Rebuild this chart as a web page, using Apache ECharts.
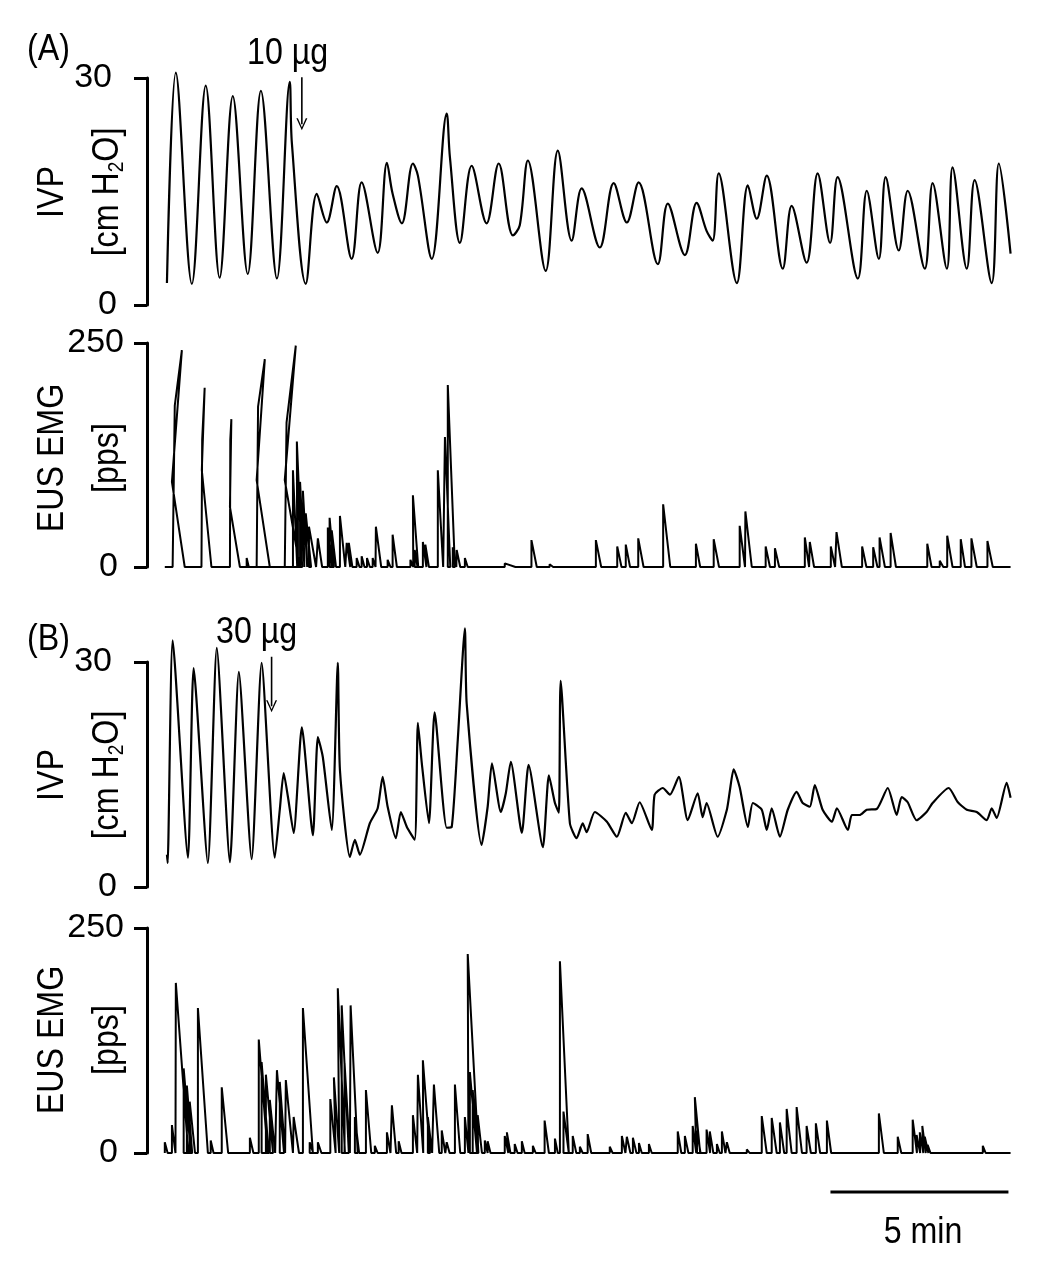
<!DOCTYPE html>
<html><head><meta charset="utf-8">
<script src="https://cdn.jsdelivr.net/npm/echarts@6/dist/echarts.min.js"></script>
<style>html,body{margin:0;padding:0;background:#fff}#c{width:1050px;height:1272px}</style>
</head><body><div id="c"></div>
<script>
// ---- Data (time in minutes from start of trace) ----
// Panel A, IVP [cm H2O]
const tIvpA = [0.06,0.31,0.76,1.15,1.54,1.91,2.33,2.70,3.15,3.51,3.57,3.96,4.27,4.55,4.83,5.25,5.53,5.98,6.24,6.40,6.66,6.97,7.11,7.50,7.92,8.01,8.29,8.62,9.04,9.38,9.78,9.97,10.20,10.70,11.04,11.43,11.71,12.22,12.61,12.98,13.31,13.85,14.13,14.61,14.94,15.22,15.39,15.56,16.07,16.38,16.63,16.91,17.36,17.61,18.03,18.34,18.69,18.90,19.47,19.72,20.06,20.25,20.62,20.87,21.35,21.57,21.97,22.13,22.53,22.75,23.23,23.43,23.76];
const vIvpA = [2.9,30.7,2.8,29.0,3.6,27.6,4.1,28.3,3.5,29.5,21.4,2.8,14.7,10.9,15.7,6.1,16.2,6.9,18.8,14.7,10.8,18.7,17.1,6.1,25.3,19.5,8.2,18.4,10.8,18.7,9.2,10.5,19.1,4.5,20.4,8.5,15.4,7.6,16.1,10.9,16.2,5.4,13.4,6.6,13.5,9.8,8.5,17.4,2.9,15.8,11.4,17.1,4.8,13.1,5.6,17.4,8.2,16.9,3.5,15.1,6.1,16.9,7.2,15.1,4.8,16.1,4.8,18.2,4.8,16.5,2.9,18.7,6.8];

// Panel A, EUS EMG [pps]: large bursts (point sequence) and single discharges
const tBurstA = [0,0.22,0.28,0.48,0.20,0.56, 1.03,1.05,1.12,1.04,1.31, 1.83,1.84,1.87,1.83,2.11, 2.58,2.62,2.81,2.58,2.95, 3.37,3.42,3.68,3.37,3.79];
const vBurstA = [0,0,180,242,95,0, 0,142,200,108,0, 0,142,165,67,0, 0,179,232,97,0, 0,161,247,97,0];
const tSpkA = [2.30,3.60,3.71,3.74,3.80,3.88,3.96,4.05,4.30,4.58,4.63,4.69,4.92,5.11,5.17,5.39,5.53,5.68,5.84,5.93,6.26,6.40,6.90,6.97,7.02,7.25,7.32,7.67,7.87,7.95,8.09,8.20,8.43,9.55,10.30,10.81,12.11,12.71,12.95,13.30,14.00,14.92,15.42,16.15,16.31,16.88,17.14,17.98,18.12,18.71,18.87,19.59,19.90,20.08,20.39,21.42,21.77,21.98,22.36,22.66,23.11];
const vSpkA = [10,108,140,100,95,85,60,45,32,44,55,41,57,27,27,10,12,10,10,45,8,36,8,80,19,28,25,108,145,203,22,19,10,4,30,3,30,23,25,32,70,26,31,46,62,23,21,33,28,23,39,23,22,33,38,26,7,35,31,32,29];
const dSpkA = [0.06,0.12,0.15,0.12,0.12,0.12,0.15,0.2,0.12,0.12,0.12,0.12,0.15,0.1,0.1,0.08,0.08,0.08,0.08,0.15,0.08,0.12,0.08,0.15,0.08,0.1,0.1,0.15,0.15,0.2,0.1,0.1,0.08,0.3,0.15,0.1,0.15,0.12,0.12,0.15,0.2,0.12,0.15,0.15,0.18,0.12,0.12,0.12,0.12,0.12,0.15,0.12,0.12,0.15,0.15,0.12,0.1,0.15,0.12,0.15,0.15];

// Panel B, IVP [cm H2O]
const tIvpB = [0.06,0.08,0.22,0.65,0.81,1.21,1.46,1.83,2.08,2.44,2.72,3.09,3.23,3.34,3.46,3.62,3.85,4.16,4.30,4.44,4.69,4.86,4.92,5.20,5.34,5.48,5.76,5.98,6.12,6.26,6.49,6.63,6.80,7.02,7.11,7.22,7.42,7.58,7.92,8.06,8.23,8.43,8.48,8.90,9.07,9.19,9.44,9.58,9.72,10.03,10.22,10.62,10.79,10.96,11.07,11.12,11.38,11.57,11.74,11.85,12.08,12.42,12.70,12.95,13.12,13.34,13.68,13.76,13.99,14.19,14.44,14.69,14.97,15.11,15.22,15.53,15.79,15.87,15.98,16.15,16.38,16.52,16.77,16.91,17.05,17.28,17.50,17.75,17.92,18.12,18.26,18.48,18.74,18.88,19.19,19.30,19.52,19.72,20.00,20.31,20.56,20.70,20.87,21.12,21.40,21.57,22.02,22.28,22.53,22.81,23.09,23.23,23.37,23.65,23.76];
const vIvpB = [4.3,3.2,32.9,3.9,29.2,3.2,31.9,3.3,28.7,3.7,29.9,3.9,10.3,15.2,12.0,7.2,21.3,6.9,20.0,17.3,7.6,29.9,15.6,4.0,6.3,4.3,8.5,10.5,14.7,10.7,6.5,10.0,8.0,6.3,21.9,16.5,8.5,23.3,7.9,8.0,19.6,34.5,24.5,5.6,10.7,16.5,10.0,12.5,16.7,7.2,16.3,5.3,14.9,11.2,9.9,27.5,8.5,6.5,8.5,7.3,10.0,8.7,6.7,9.9,8.5,11.3,7.6,12.3,13.2,12.3,14.7,8.9,12.5,9.3,11.2,6.7,10.3,12.7,15.7,13.3,8.0,11.2,10.3,7.6,10.5,6.7,10.3,12.7,11.2,10.7,13.6,10.3,8.7,10.5,7.6,9.6,9.6,10.3,10.4,13.2,9.6,12.0,11.3,8.9,10.0,11.2,13.2,11.3,10.3,10.0,8.9,10.5,9.2,13.9,11.9];

// Panel B, EUS EMG [pps]: discharges (onset, peak, decay duration)
const tSpkB = [0.00,0.20,0.31,0.53,0.62,0.70,0.93,1.29,1.60,2.39,2.64,2.72,2.84,2.95,3.15,3.23,3.40,3.62,3.88,4.07,4.30,4.65,4.75,4.86,4.97,5.05,5.22,5.34,5.65,5.90,6.24,6.38,6.57,6.97,7.11,7.25,7.39,7.56,7.78,7.92,8.15,8.43,8.51,8.57,8.65,8.79,8.99,9.07,9.55,9.61,9.83,10.03,10.34,10.67,10.96,11.10,11.20,11.46,11.66,11.88,12.50,12.84,12.98,13.15,13.32,13.60,14.41,14.61,14.83,14.89,14.95,15.22,15.31,15.51,15.65,15.79,16.35,16.77,17.05,17.28,17.47,17.75,18.03,18.29,18.60,20.06,20.59,21.01,21.12,21.21,21.28,21.35,21.43,22.98];
const vSpkB = [12,31,189,94,75,57,161,14,73,17,126,101,87,59,92,79,81,40,161,12,12,60,84,183,164,100,164,40,70,8,23,53,13,42,87,103,40,76,25,12,76,40,221,90,70,42,14,13,19,23,10,13,8,36,16,213,46,19,7,21,7,19,18,17,11,10,24,19,30,62,25,26,24,10,24,12,4,41,39,34,49,51,30,33,36,44,18,37,20,23,30,18,9,8];
const dSpkB = [0.08,0.1,0.35,0.2,0.15,0.15,0.28,0.08,0.18,0.1,0.25,0.2,0.2,0.15,0.2,0.15,0.2,0.15,0.28,0.1,0.1,0.15,0.15,0.2,0.2,0.15,0.2,0.12,0.15,0.08,0.1,0.12,0.08,0.12,0.15,0.2,0.12,0.15,0.1,0.08,0.15,0.1,0.3,0.2,0.15,0.12,0.08,0.08,0.1,0.1,0.08,0.08,0.08,0.12,0.08,0.25,0.15,0.1,0.08,0.1,0.08,0.1,0.1,0.1,0.08,0.08,0.1,0.1,0.1,0.15,0.1,0.1,0.1,0.08,0.1,0.08,0.08,0.14,0.14,0.12,0.14,0.15,0.12,0.12,0.12,0.14,0.1,0.12,0.1,0.1,0.1,0.1,0.08,0.08];

const traceEnd = 23.76;
// Drug application markers (time, arrow top / arrowhead centre in cm H2O)
const doseA = {t: 3.85, top: 30.1, head: 23.9, label: '10 µg'};
const doseB = {t: 3.00, top: 30.7, head: 24.1, label: '30 µg'};
// Scale bar (minutes)
const scaleBar = [18.7, 23.7];
const ivpTicks = [0, 30];
const emgTicks = [0, 250];

// ---- Build series data ----
const pairs = (t, v) => t.map((x, i) => [x, v[i]]);
function spikes(t, v, d) {
  const out = [];
  t.forEach((x, i) => { out.push([x, 0], [x, v[i]], [+(x + d[i]).toFixed(3), 0]); });
  return out;
}
const emgA = pairs(tBurstA, vBurstA).concat(spikes(tSpkA, vSpkA, dSpkA), [[traceEnd, 0]]);
const emgB = spikes(tSpkB, vSpkB, dSpkB).concat([[traceEnd, 0]]);

const FONT = "'Liberation Sans',Arial,Helvetica,sans-serif";
const FS = 37;          // annotation text (horizontally condensed below)
const SX = 0.87;
const TICK_FS = 34;
const grids = [
  {left: 147, width: 865, top: 78, height: 227},
  {left: 147, width: 865, top: 343, height: 224},
  {left: 147, width: 865, top: 662, height: 225},
  {left: 147, width: 865, top: 928, height: 225},
  {left: 147, width: 865, top: 1185, height: 14}
];
const xAxes = grids.map((g, i) => ({gridIndex: i, type: 'value', min: -0.5, max: 23.8, show: false}));
function yAx(i, ticks, margin, padTop, padBottom) {
  return {
    gridIndex: i, type: 'value', min: ticks[0], max: ticks[1], interval: ticks[1] - ticks[0],
    axisLine: {show: true, onZero: false, lineStyle: {color: '#000', width: 3}},
    axisTick: {show: true, length: 13, lineStyle: {color: '#000', width: 3}},
    splitLine: {show: false},
    axisLabel: {
      color: '#000', fontSize: TICK_FS, fontFamily: FONT, margin: margin,
      formatter: v => (v === ticks[1] ? '{t|' + v + '}' : '{b|' + v + '}'),
      rich: {
        t: {fontSize: TICK_FS, fontFamily: FONT, color: '#000', padding: [0, padTop, 0, 0]},
        b: {fontSize: TICK_FS, fontFamily: FONT, color: '#000', padding: [0, padBottom, 0, 0]}
      }
    }
  };
}
const yAxes = [yAx(0, ivpTicks, 30, 5, 0), yAx(1, emgTicks, 23, 0, 6), yAx(2, ivpTicks, 30, 5, 0), yAx(3, emgTicks, 23, 0, 6),
  {gridIndex: 4, type: 'value', min: -1, max: 1, show: false}];

const arrowSym = 'path://M0,12 L5,0 L10,12 L8.6,12 L5,3 L1.4,12 Z';
function doseArrow(d, idx) {
  return {
    type: 'line', xAxisIndex: idx, yAxisIndex: idx, clip: false, animation: false, silent: true,
    symbol: arrowSym, symbolSize: [11, 12], showSymbol: true, showAllSymbol: true,
    lineStyle: {color: '#000', width: 1.6}, itemStyle: {color: '#000', borderWidth: 0},
    data: [{value: [d.t, d.top], symbol: 'none'}, {value: [d.t, d.head], symbolRotate: 180}]
  };
}
const lineBase = {type: 'line', symbol: 'none', clip: false, animation: false, silent: true,
  lineStyle: {color: '#000', width: 2.2}};
const series = [
  Object.assign({}, lineBase, {xAxisIndex: 0, yAxisIndex: 0, smooth: 0.35, data: pairs(tIvpA, vIvpA)}),
  Object.assign({}, lineBase, {xAxisIndex: 1, yAxisIndex: 1, data: emgA, lineStyle: {color: '#000', width: 2}}),
  Object.assign({}, lineBase, {xAxisIndex: 2, yAxisIndex: 2, smooth: 0.2, data: pairs(tIvpB, vIvpB)}),
  Object.assign({}, lineBase, {xAxisIndex: 3, yAxisIndex: 3, data: emgB, lineStyle: {color: '#000', width: 2}}),
  Object.assign({}, lineBase, {xAxisIndex: 4, yAxisIndex: 4, data: [[scaleBar[0], 0], [scaleBar[1], 0]], lineStyle: {color: '#000', width: 3}}),
  doseArrow(doseA, 0),
  doseArrow(doseB, 2)
];

function txt(x, y, text, opt) {
  opt = opt || {};
  return {
    type: 'text', x: x, y: y, rotation: opt.rot || 0, scaleX: SX, scaleY: 1, silent: true,
    style: Object.assign({text: text, fill: '#000', font: FS + 'px ' + FONT,
      textAlign: opt.align || 'center', textVerticalAlign: 'middle'}, opt.style || {})
  };
}
const unitRich = {
  a: {fontSize: FS, fontFamily: FONT, lineHeight: 40, fill: '#000', color: '#000'},
  s: {fontSize: 22, fontFamily: FONT, lineHeight: 8, verticalAlign: 'bottom', fill: '#000', color: '#000'}
};
const R = Math.PI / 2;
const graphic = [
  txt(27, 50, '(A)', {align: 'left'}),
  txt(27, 640, '(B)', {align: 'left'}),
  txt(247, 54, doseA.label, {align: 'left'}),
  txt(216, 633, doseB.label, {align: 'left'}),
  txt(53, 192, 'IVP', {rot: R}),
  txt(108, 192, '{a|[cm H}{s|2}{a|O]}', {rot: R, style: {rich: unitRich}}),
  txt(53, 458, 'EUS EMG', {rot: R}),
  txt(108, 458, '[pps]', {rot: R}),
  txt(53, 775, 'IVP', {rot: R}),
  txt(108, 775, '{a|[cm H}{s|2}{a|O]}', {rot: R, style: {rich: unitRich}}),
  txt(53, 1040, 'EUS EMG', {rot: R}),
  txt(108, 1040, '[pps]', {rot: R}),
  txt(923, 1233, '5 min')
];

const chart = echarts.init(document.getElementById('c'), null, {renderer: 'canvas'});
chart.setOption({
  animation: false,
  backgroundColor: '#fff',
  textStyle: {fontFamily: FONT},
  grid: grids, xAxis: xAxes, yAxis: yAxes, series: series, graphic: graphic
});
</script></body></html>
